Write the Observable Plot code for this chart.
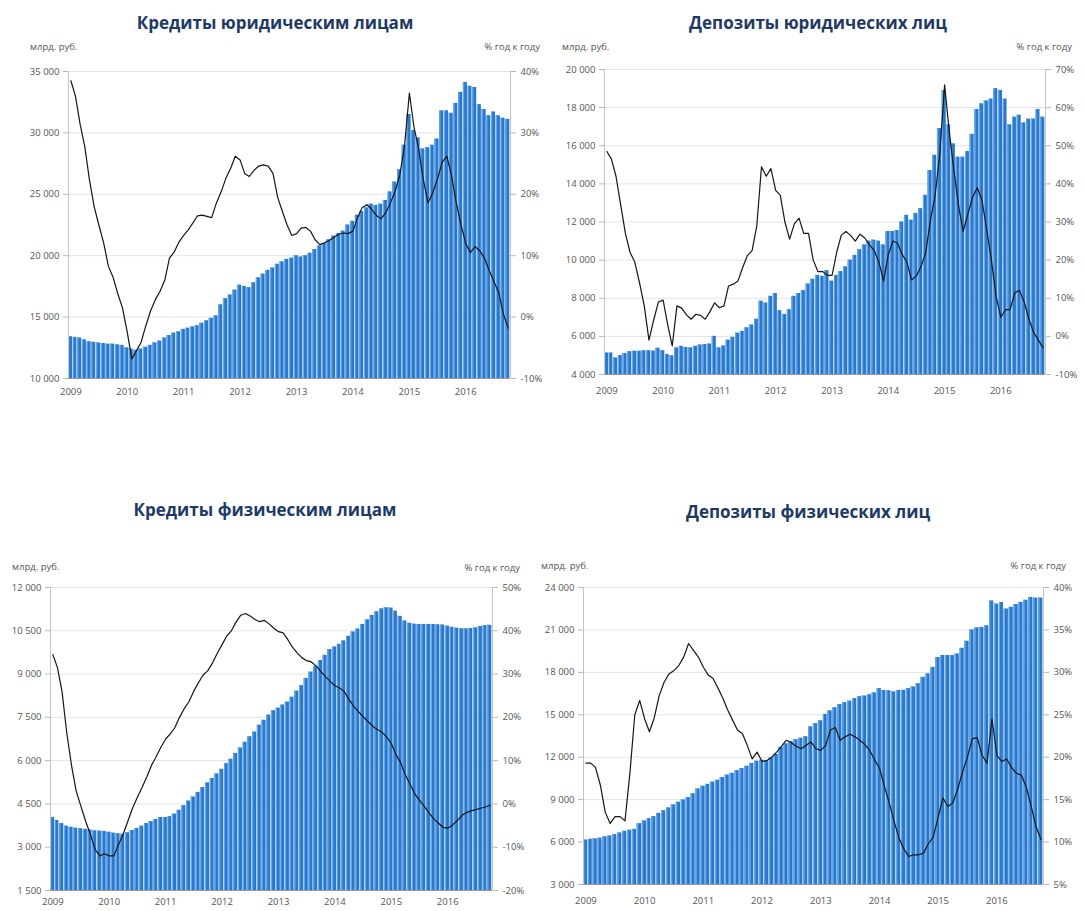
<!DOCTYPE html>
<html><head><meta charset="utf-8">
<script src="https://cdn.jsdelivr.net/npm/d3@7"></script>
<script src="https://cdn.jsdelivr.net/npm/@observablehq/plot@0.6"></script>
<style>
body{margin:0;background:#fff;font-family:"Open Sans",sans-serif;}
#root{position:relative;width:1084px;height:911px;overflow:hidden;background:#fff;}
.title{position:absolute;font-weight:700;font-size:17px;color:#1d3a66;white-space:nowrap;transform:translate(-50%,-50%);}
.unit{position:absolute;font-size:9.5px;color:#555;white-space:nowrap;transform:translateY(-50%);}
.chart{position:absolute;}
.chart svg{overflow:visible;}
</style></head><body><div id="root"></div><script>
// ---- categories ----
const startMonth = new Date(Date.UTC(2009, 0, 1));
const endMonth = new Date(Date.UTC(2016, 10, 1));
const months = d3.utcMonths(startMonth, endMonth); // Jan 2009 .. Oct 2016 (94 months)
const yearLabels = ["2009","2010","2011","2012","2013","2014","2015","2016"];

// ---- titles & units ----
const titles = ["Кредиты юридическим лицам","Депозиты юридических лиц","Кредиты физическим лицам","Депозиты физических лиц"];
const unitLeft = "млрд. руб.";
const unitRight = "% год к году";

// ---- series: bars (bn RUB) and lines (% y/y) ----
const corpLoans = [13400,13350,13300,13150,13000,12950,12900,12850,12800,12800,12750,12700,
12500,12400,12300,12400,12550,12700,12900,13050,13300,13500,13700,13800,
14000,14100,14200,14300,14500,14700,14900,15100,16000,16500,16800,17200,
17600,17500,17400,17800,18200,18500,18800,19000,19300,19500,19700,19800,
20000,19900,20000,20200,20500,20800,21000,21300,21600,21800,22000,22500,
22800,23300,23600,23900,24200,24100,24200,24500,25200,26000,27000,29000,
31500,30200,29600,28700,28800,29000,29500,31800,31800,31600,32400,33300,
34100,33800,33700,32300,31900,31400,31700,31400,31200,31100];
const corpLoansYoY = [38.5,36,31.5,27.8,22.4,18,15,12.1,8.3,6.5,3.8,1.5,
-2.5,-6.8,-5.5,-4.1,-1.4,1.0,2.8,4.2,6.0,9.6,10.6,12.2,
13.3,14.2,15.3,16.5,16.6,16.4,16.2,18.6,20.4,22.6,24.2,26.2,
25.6,23.4,22.9,23.9,24.6,24.8,24.6,23.4,19.5,17.2,15.0,13.3,
13.6,14.5,14.6,14.0,12.6,11.8,12.1,12.5,13.0,13.5,13.7,13.6,
14.0,16.2,17.8,18.3,17.6,16.6,16.0,17.0,18.6,20.5,23.2,28.0,
36.5,31.0,27.5,22.5,18.6,20.2,22.4,25.2,26.2,23.0,18.6,15.0,
12.0,10.5,11.5,10.8,9.6,7.6,5.8,4.0,0.5,-1.8];

const corpDeposits = [5130,5130,4870,5000,5100,5200,5220,5220,5250,5250,5230,5380,
5250,5050,4980,5400,5480,5420,5400,5480,5550,5570,5600,6000,
5400,5500,5800,5950,6170,6260,6450,6600,6900,7850,7750,8100,
8250,7350,7150,7400,8100,8250,8400,8750,9000,9200,9150,9450,
8900,9200,9400,9650,10000,10250,10550,10800,11000,11050,11000,10800,
11500,11500,11550,12000,12350,12100,12450,12700,13400,14700,15500,16900,
18900,17100,16100,15400,15400,15700,16600,17900,18200,18350,18450,19000,
18900,18450,17100,17500,17600,17200,17400,17400,17900,17500];
const corpDepositsYoY = [48.5,46.5,42,34.5,27,22,19.5,14,8,-1.0,4.3,9,
9.5,3,-2.5,8.0,7.4,5.7,4.5,5.8,5.5,4.5,6.5,8.8,
7.5,8.0,13.2,13.7,14.5,18.0,21.2,22.5,29.0,44.5,42.0,44.0,
38.3,37.0,30.0,25.5,29.5,31.0,27.0,27.0,20.0,17.0,17.0,16.0,
16.0,22.0,26.5,27.5,26.5,25.0,26.8,25.8,24.0,22.5,19.5,14.5,
21.5,25.0,24.5,21.5,19.5,14.8,15.8,18.3,22.0,30.5,37.0,48.0,
66.0,53.9,44.0,34.5,27.5,32.0,36.5,39.0,35.7,28.0,20.0,10.5,
5.0,7.0,7.0,11.5,12.0,9.0,4.5,1.0,-1.0,-3.0];

const retailLoans = [4030,3930,3820,3730,3690,3660,3640,3620,3600,3570,3560,3550,
3520,3490,3470,3450,3500,3580,3650,3730,3820,3890,3960,4030,
4030,4060,4150,4280,4440,4600,4740,4900,5070,5230,5380,5540,
5700,5900,6050,6250,6440,6640,6830,6990,7230,7400,7580,7730,
7820,7930,8030,8200,8410,8600,8850,9070,9270,9470,9650,9850,
9940,10030,10150,10310,10460,10560,10720,10880,11030,11160,11260,11300,
11290,11180,11000,10840,10760,10730,10720,10720,10720,10720,10710,10700,
10660,10620,10590,10570,10570,10580,10600,10650,10680,10690];
const retailLoansYoY = [34.5,31.5,26.0,16.5,9.0,3.0,-0.5,-4.0,-7.0,-10.5,-12.0,-11.5,
-12.0,-12.0,-9.5,-7.0,-4.0,-1.0,1.5,3.8,6.2,8.9,10.9,13.1,
15.0,16.2,17.6,20.0,22.0,23.6,26.0,28.0,29.8,30.8,32.6,34.8,
36.8,38.8,40.0,42.0,43.6,44.0,43.4,42.6,42.1,42.4,41.6,40.6,
39.8,39.5,38.0,36.2,34.9,33.8,33.1,32.8,31.9,30.6,29.4,28.3,
27.3,26.8,26.0,24.2,22.6,21.4,20.2,19.1,18.0,17.2,16.6,15.5,
13.9,11.4,9.6,6.8,4.6,2.4,0.9,-0.5,-2.0,-3.4,-4.4,-5.4,
-5.6,-4.9,-3.9,-2.7,-2.0,-1.6,-1.3,-1.0,-0.7,-0.3];

const retailDeposits = [6150,6200,6230,6280,6370,6440,6530,6650,6760,6840,6900,7300,
7500,7660,7800,8030,8220,8420,8630,8820,8980,9150,9420,9760,
9950,10080,10240,10370,10560,10740,10860,11050,11200,11360,11560,11720,
11780,11760,11950,12200,12700,12950,13120,13240,13350,13450,14150,14380,
14580,15030,15280,15500,15720,15860,15970,16150,16280,16330,16420,16550,
16850,16720,16700,16620,16720,16730,16850,16970,17200,17650,17900,18350,
19050,19190,19190,19190,19300,19700,20200,21000,21150,21180,21300,23050,
22830,22940,22480,22600,22800,22950,23100,23300,23250,23250];
const retailDepositsYoY = [19.3,19.3,18.8,16.7,13.5,12.2,13.0,13.0,12.5,18.1,25.0,26.7,
24.5,23.0,24.6,27.2,28.8,29.8,30.2,30.8,31.8,33.4,32.6,31.8,
30.6,29.7,29.3,28.2,27.0,25.6,24.4,23.2,22.8,21.4,19.8,20.6,
19.5,19.6,20.0,20.6,21.3,22.0,21.7,21.3,21.0,21.4,21.8,21.0,
20.8,21.4,23.2,23.5,22.0,22.4,22.7,22.4,22.0,21.5,20.8,19.7,
18.7,16.6,14.7,12.5,10.5,9.2,8.3,8.5,8.5,8.7,9.8,10.6,
13.0,15.2,14.2,14.6,16.2,18.2,20.0,22.2,22.3,20.2,19.3,24.5,
20.2,19.5,19.8,18.8,18.1,17.9,16.5,14.2,11.8,10.3];

// ---- axis tick values ----
const leftTicks1 = [10000,15000,20000,25000,30000,35000];
const rightTicks1 = [-10,0,10,20,30,40];
const leftTicks2 = [4000,6000,8000,10000,12000,14000,16000,18000,20000];
const rightTicks2 = [-10,0,10,20,30,40,50,60,70];
const leftTicks3 = [1500,3000,4500,6000,7500,9000,10500,12000];
const rightTicks3 = [-20,-10,0,10,20,30,40,50];
const leftTicks4 = [3000,6000,9000,12000,15000,18000,21000,24000];
const rightTicks4 = [5,10,15,20,25,30,35,40];

const panels = [
  {title: titles[0], bars: corpLoans, yoy: corpLoansYoY, lt: leftTicks1, rt: rightTicks1,
   box: {left: 0, top: 50, width: 560, height: 350, ml: 68, mr: 50, mt: 21, mb: 22, xpad: 10},
   titlePos: [275, 22], unitL: [30, 46], unitR: [540, 46]},
  {title: titles[1], bars: corpDeposits, yoy: corpDepositsYoY, lt: leftTicks2, rt: rightTicks2,
   box: {left: 540, top: 50, width: 544, height: 350, ml: 64, mr: 39, mt: 19, mb: 26, xpad: 13},
   titlePos: [818, 22], unitL: [562, 46], unitR: [1072, 46]},
  {title: titles[2], bars: retailLoans, yoy: retailLoansYoY, lt: leftTicks3, rt: rightTicks3,
   box: {left: 0, top: 570, width: 540, height: 341, ml: 50, mr: 48, mt: 17, mb: 21, xpad: 8},
   titlePos: [265, 509], unitL: [12, 566], unitR: [520, 567]},
  {title: titles[3], bars: retailDeposits, yoy: retailDepositsYoY, lt: leftTicks4, rt: rightTicks4,
   box: {left: 520, top: 570, width: 564, height: 341, ml: 63, mr: 41, mt: 17, mb: 27, xpad: 13},
   titlePos: [808, 511], unitL: [541, 565], unitR: [1066, 565]}
];

const root = document.getElementById("root");
const fmtNum = d => d3.format(",")(d).replace(/,/g, " ");
const yearTicks = yearLabels.map(y => new Date(Date.UTC(+y, 0, 16)));

function addText(cls, text, x, y, alignRight) {
  const el = document.createElement("div");
  el.className = cls;
  el.textContent = text;
  el.style.top = y + "px";
  if (alignRight) el.style.right = (1084 - x) + "px"; else el.style.left = x + "px";
  root.appendChild(el);
}

for (const p of panels) {
  const l0 = p.lt[0], l1 = p.lt[p.lt.length - 1];
  const r0 = p.rt[0], r1 = p.rt[p.rt.length - 1];
  const toLeft = v => l0 + (v - r0) * (l1 - l0) / (r1 - r0);
  const toRight = v => Math.round(r0 + (v - l0) * (r1 - r0) / (l1 - l0));
  const rows = months.map((m, i) => ({
    start: m, end: d3.utcMonth.offset(m, 1),
    mid: new Date((+m + +d3.utcMonth.offset(m, 1)) / 2),
    bars: p.bars[i], pct: p.yoy[i]
  }));
  const b = p.box;
  const chart = Plot.plot({
    width: b.width, height: b.height,
    marginLeft: b.ml, marginRight: b.mr, marginTop: b.mt, marginBottom: b.mb,
    style: {fontFamily: "Open Sans, sans-serif", fontSize: "9.5px", color: "#555", background: "transparent", overflow: "visible"},
    x: {type: "utc", domain: [startMonth, endMonth], axis: null},
    y: {domain: [l0, l1], axis: null},
    marks: [
      Plot.ruleY(p.lt.slice(1), {stroke: "#e3e3e3"}),
      Plot.rect(rows, {x1: "start", x2: "end", y1: () => l0, y2: "bars", fill: "#2a78cc", insetRight: 0.7}),
      Plot.rect(rows, {x1: "start", x2: "end", y1: () => l0, y2: "bars", fill: "#62a8ec", insetRight: 3.5}),
      Plot.ruleX([startMonth], {stroke: "#c4c4c4"}),
      Plot.ruleX([endMonth], {stroke: "#c4c4c4"}),
      Plot.ruleY([l0], {stroke: "#9a9a9a"}),
      Plot.line(rows, {x: "mid", y: d => toLeft(d.pct), stroke: "#161616", strokeWidth: 1.2}),
      Plot.axisY(p.lt, {anchor: "left", label: null, tickSize: 5, tickPadding: 4, stroke: "#b8b8b8", tickFormat: fmtNum}),
      Plot.axisY(p.lt, {anchor: "right", label: null, tickSize: 5, tickPadding: 5, stroke: "#b8b8b8", tickFormat: v => toRight(v) + "%"}),
      Plot.axisX(yearTicks, {anchor: "bottom", label: null, tickSize: 0, tickPadding: b.xpad, tickFormat: d => d3.utcFormat("%Y")(d)})
    ]
  });
  const wrap = document.createElement("div");
  wrap.className = "chart";
  wrap.style.left = b.left + "px";
  wrap.style.top = b.top + "px";
  wrap.appendChild(chart);
  root.appendChild(wrap);
  addText("title", p.title, p.titlePos[0], p.titlePos[1], false);
  addText("unit", unitLeft, p.unitL[0], p.unitL[1], false);
  addText("unit", unitRight, p.unitR[0], p.unitR[1], true);
}
</script></body></html>
